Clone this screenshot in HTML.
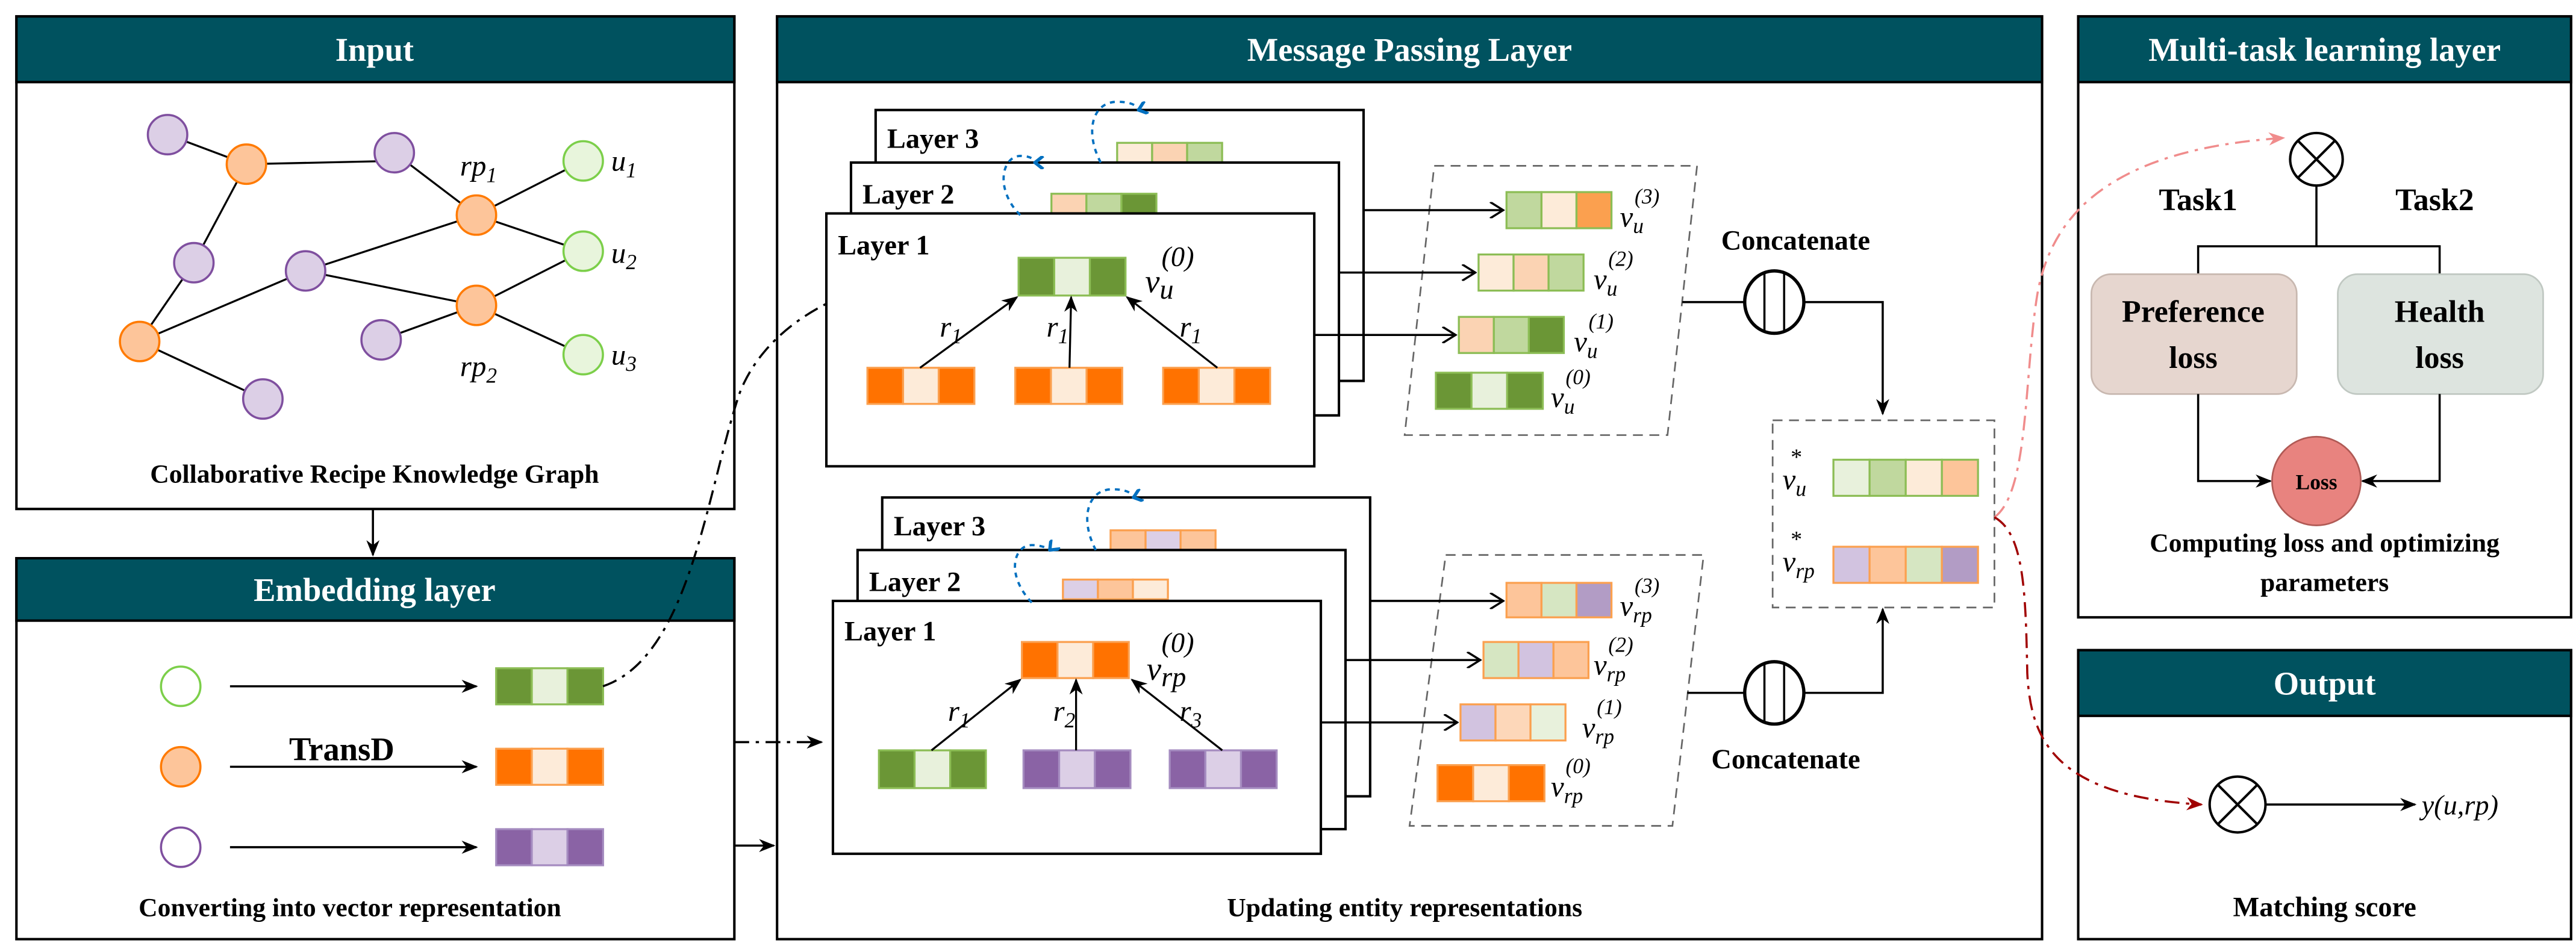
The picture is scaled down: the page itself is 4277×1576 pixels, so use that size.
<!DOCTYPE html>
<html><head><meta charset="utf-8"><style>
html,body{margin:0;padding:0;background:#fff;font-family:"Liberation Serif",serif;}
svg{display:block;font-family:"Liberation Serif",serif;}
svg text{font-family:"Liberation Serif",serif;}
.h{fill:#fff;font-weight:bold;font-size:20px;text-anchor:middle}
.c{fill:#000;font-weight:bold;font-size:16px;text-anchor:middle}
.m{font-style:italic;font-size:18px}
.s{font-style:italic;font-size:13px}
</style></head><body>
<svg width="4277" height="1576" viewBox="0 0 1568 578" preserveAspectRatio="none" xmlns="http://www.w3.org/2000/svg" font-family="Liberation Serif, serif">
<defs>
<marker id="a" markerWidth="10" markerHeight="8" refX="9" refY="4" orient="auto" markerUnits="userSpaceOnUse"><path d="M0,0 L10,4 L0,8 L3,4 Z" fill="#000"/></marker>
<marker id="o" markerWidth="10" markerHeight="10" refX="9" refY="5" orient="auto" markerUnits="userSpaceOnUse"><path d="M1,0 L9,5 L1,10" fill="none" stroke="#000" stroke-width="1.3"/></marker>
<marker id="b" markerWidth="8" markerHeight="8" refX="4" refY="7" orient="auto" markerUnits="userSpaceOnUse"><path d="M0,2 L4,7 L8,2" fill="none" stroke="#0070c0" stroke-width="2"/></marker>
<marker id="p" markerWidth="10" markerHeight="8" refX="9" refY="4" orient="auto" markerUnits="userSpaceOnUse"><path d="M0,0 L10,4 L0,8 L3,4 Z" fill="#f08c8c"/></marker>
<marker id="r" markerWidth="10" markerHeight="8" refX="9" refY="4" orient="auto" markerUnits="userSpaceOnUse"><path d="M0,0 L10,4 L0,8 L3,4 Z" fill="#a00000"/></marker>
</defs>
<rect width="1568" height="578" fill="#fff"/>

<g stroke="#000" stroke-width="1.5" fill="none">
<rect x="10" y="10" width="437" height="300"/>
<rect x="10" y="340" width="437" height="232"/>
<rect x="473" y="10" width="770" height="562"/>
<rect x="1265" y="10" width="300" height="366"/>
<rect x="1265" y="396" width="300" height="176"/>
</g>
<g fill="#00525f" stroke="#000" stroke-width="1.5">
<rect x="10" y="10" width="437" height="40"/>
<rect x="10" y="340" width="437" height="38"/>
<rect x="473" y="10" width="770" height="40"/>
<rect x="1265" y="10" width="300" height="40"/>
<rect x="1265" y="396" width="300" height="40"/>
</g>
<text class="h" x="228" y="37">Input</text>
<text class="h" x="228" y="366">Embedding layer</text>
<text class="h" x="858" y="37">Message Passing Layer</text>
<text class="h" x="1415" y="37">Multi-task learning layer</text>
<text class="h" x="1415" y="423">Output</text>

<g stroke="#000" stroke-width="1.2">
<line x1="102" y1="82" x2="150" y2="100"/><line x1="150" y1="100" x2="240" y2="98"/>
<line x1="150" y1="100" x2="118" y2="160"/><line x1="118" y1="160" x2="85" y2="208"/>
<line x1="85" y1="208" x2="186" y2="165"/><line x1="186" y1="165" x2="290" y2="131"/>
<line x1="240" y1="93" x2="290" y2="131"/><line x1="290" y1="131" x2="355" y2="98"/>
<line x1="290" y1="131" x2="355" y2="153"/><line x1="290" y1="186" x2="355" y2="153"/>
<line x1="290" y1="186" x2="355" y2="216"/><line x1="232" y1="207" x2="290" y2="186"/>
<line x1="186" y1="165" x2="290" y2="186"/><line x1="85" y1="208" x2="160" y2="243"/>
</g>
<g stroke-width="1.3">
<g fill="#dccfe6" stroke="#7f4f9f">
<circle cx="102" cy="82" r="12"/><circle cx="240" cy="93" r="12"/><circle cx="118" cy="160" r="12"/>
<circle cx="186" cy="165" r="12"/><circle cx="232" cy="207" r="12"/><circle cx="160" cy="243" r="12"/>
</g>
<g fill="#fdc59a" stroke="#ff7a00">
<circle cx="150" cy="100" r="12"/><circle cx="290" cy="131" r="12"/><circle cx="85" cy="208" r="12"/><circle cx="290" cy="186" r="12"/>
</g>
<g fill="#e8f5dc" stroke="#7ccf4a">
<circle cx="355" cy="98" r="12"/><circle cx="355" cy="153" r="12"/><circle cx="355" cy="216" r="12"/>
</g>
</g>
<text class="m" x="280" y="107">rp<tspan class="s" dy="4">1</tspan></text>
<text class="m" x="280" y="229">rp<tspan class="s" dy="4">2</tspan></text>
<text class="m" x="372" y="104">u<tspan class="s" dy="4">1</tspan></text>
<text class="m" x="372" y="160">u<tspan class="s" dy="4">2</tspan></text>
<text class="m" x="372" y="222">u<tspan class="s" dy="4">3</tspan></text>
<text class="c" x="228" y="294">Collaborative Recipe Knowledge Graph</text>
<line x1="227" y1="310" x2="227" y2="338" stroke="#000" stroke-width="1.3" marker-end="url(#a)"/>

<g stroke-width="1.3">
<circle cx="110" cy="418" r="12" fill="#fff" stroke="#7ccf4a"/>
<circle cx="110" cy="467" r="12" fill="#fdc59a" stroke="#ff7a00"/>
<circle cx="110" cy="516" r="12" fill="#fff" stroke="#7f4f9f"/>
</g>
<g stroke="#000" stroke-width="1.3">
<line x1="140" y1="418" x2="290" y2="418" marker-end="url(#a)"/>
<line x1="140" y1="467" x2="290" y2="467" marker-end="url(#a)"/>
<line x1="140" y1="516" x2="290" y2="516" marker-end="url(#a)"/>
</g>
<text x="208" y="463" style="font-weight:bold;font-size:20px;text-anchor:middle">TransD</text>
<g stroke-width="1.2">
<g transform="translate(302,407)" stroke="#8cbd55"><rect width="21.7" height="22" fill="#6b9636"/><rect x="21.7" width="21.7" height="22" fill="#e8f1dc"/><rect x="43.4" width="21.7" height="22" fill="#6b9636"/></g>
<g transform="translate(302,456)" stroke="#fba04f"><rect width="21.7" height="22" fill="#ff7200"/><rect x="21.7" width="21.7" height="22" fill="#fdebd9"/><rect x="43.4" width="21.7" height="22" fill="#ff7200"/></g>
<g transform="translate(302,505)" stroke="#a58cc0"><rect width="21.7" height="22" fill="#8a63a5"/><rect x="21.7" width="21.7" height="22" fill="#dccfe6"/><rect x="43.4" width="21.7" height="22" fill="#8a63a5"/></g>
</g>
<text class="c" x="213" y="558">Converting into vector representation</text>

<path d="M367,418 C420,400 430,300 450,240 C465,200 510,175 553,170" fill="none" stroke="#000" stroke-width="1.3" stroke-dasharray="9,4,2,4" marker-end="url(#a)"/>
<line x1="447" y1="452" x2="500" y2="452" stroke="#000" stroke-width="1.3" stroke-dasharray="9,4,2,4" marker-end="url(#a)"/>
<line x1="447" y1="515" x2="471" y2="515" stroke="#000" stroke-width="1.3" marker-end="url(#a)"/>

<!-- TOP GROUP -->
<rect x="533" y="67" width="297" height="165" fill="#fff" stroke="#000" stroke-width="1.5"/>
<g transform="translate(680,87)" stroke="#8cbd55" stroke-width="1.2"><rect width="21.3" height="12" fill="#fdebd9"/><rect x="21.3" width="21.3" height="12" fill="#fbd3b3"/><rect x="42.6" width="21.3" height="12" fill="#c0d89e"/></g>
<rect x="518" y="99" width="297" height="154" fill="#fff" stroke="#000" stroke-width="1.5"/>
<g transform="translate(640,118)" stroke="#8cbd55" stroke-width="1.2"><rect width="21.3" height="12" fill="#fbd3b3"/><rect x="21.3" width="21.3" height="12" fill="#c0d89e"/><rect x="42.6" width="21.3" height="12" fill="#6b9636"/></g>
<rect x="503" y="130" width="297" height="154" fill="#fff" stroke="#000" stroke-width="1.5"/>
<text x="540" y="90" style="font-weight:bold;font-size:17px">Layer 3</text>
<text x="525" y="124" style="font-weight:bold;font-size:17px">Layer 2</text>
<text x="510" y="155" style="font-weight:bold;font-size:17px">Layer 1</text>
<path d="M621,131 C605,115 610,94 622,95 C628,95 630,98 630,99" fill="none" stroke="#0070c0" stroke-width="1.4" stroke-dasharray="3,3" marker-end="url(#b)"/>
<path d="M670,99 C660,80 665,62 680,62 C688,62 692,64 693,67" fill="none" stroke="#0070c0" stroke-width="1.4" stroke-dasharray="3,3" marker-end="url(#b)"/>
<g stroke-width="1.2">
<g transform="translate(620,157)" stroke="#8cbd55"><rect width="21.7" height="23" fill="#6b9636"/><rect x="21.7" width="21.7" height="23" fill="#e8f1dc"/><rect x="43.4" width="21.7" height="23" fill="#6b9636"/></g>
<g transform="translate(528,224)" stroke="#fba04f"><rect width="21.7" height="22" fill="#ff7200"/><rect x="21.7" width="21.7" height="22" fill="#fdebd9"/><rect x="43.4" width="21.7" height="22" fill="#ff7200"/></g>
<g transform="translate(618,224)" stroke="#fba04f"><rect width="21.7" height="22" fill="#ff7200"/><rect x="21.7" width="21.7" height="22" fill="#fdebd9"/><rect x="43.4" width="21.7" height="22" fill="#ff7200"/></g>
<g transform="translate(708,224)" stroke="#fba04f"><rect width="21.7" height="22" fill="#ff7200"/><rect x="21.7" width="21.7" height="22" fill="#fdebd9"/><rect x="43.4" width="21.7" height="22" fill="#ff7200"/></g>
</g>
<g stroke="#000" stroke-width="1.2">
<line x1="560" y1="224" x2="619" y2="181" marker-end="url(#a)"/>
<line x1="651" y1="224" x2="652" y2="181" marker-end="url(#a)"/>
<line x1="741" y1="224" x2="686" y2="181" marker-end="url(#a)"/>
</g>
<text class="m" x="572" y="205">r<tspan class="s" dy="4">1</tspan></text>
<text class="m" x="637" y="205">r<tspan class="s" dy="4">1</tspan></text>
<text class="m" x="718" y="205">r<tspan class="s" dy="4">1</tspan></text>
<text class="m" x="697" y="178" style="font-size:20px">v<tspan dy="4" style="font-size:17px">u</tspan></text>
<text class="m" x="707" y="162" style="font-size:17px">(0)</text>

<path d="M873,101 L1033,101 L1015,265 L855,265 Z" fill="none" stroke="#666" stroke-width="1" stroke-dasharray="6,4"/>
<g stroke="#000" stroke-width="1.3">
<line x1="830" y1="128" x2="915" y2="128" marker-end="url(#o)"/>
<line x1="815" y1="166" x2="898" y2="166" marker-end="url(#o)"/>
<line x1="800" y1="204" x2="886" y2="204" marker-end="url(#o)"/>
</g>
<g stroke-width="1.2">
<g transform="translate(917,117)" stroke="#8cbd55"><rect width="21.3" height="22" fill="#c0d89e"/><rect x="21.3" width="21.3" height="22" fill="#fdebd9"/><rect x="42.6" width="21.3" height="22" fill="#fba04f"/></g>
<g transform="translate(900,155)" stroke="#8cbd55"><rect width="21.3" height="22" fill="#fdebd9"/><rect x="21.3" width="21.3" height="22" fill="#fbd3b3"/><rect x="42.6" width="21.3" height="22" fill="#c0d89e"/></g>
<g transform="translate(888,193)" stroke="#8cbd55"><rect width="21.3" height="22" fill="#fbd3b3"/><rect x="21.3" width="21.3" height="22" fill="#c0d89e"/><rect x="42.6" width="21.3" height="22" fill="#6b9636"/></g>
<g transform="translate(874,227)" stroke="#8cbd55"><rect width="21.7" height="22" fill="#6b9636"/><rect x="21.7" width="21.7" height="22" fill="#e8f1dc"/><rect x="43.4" width="21.7" height="22" fill="#6b9636"/></g>
</g>
<text class="m" x="986" y="138">v<tspan class="s" dy="4">u</tspan></text><text class="s" x="995" y="124">(3)</text>
<text class="m" x="970" y="176">v<tspan class="s" dy="4">u</tspan></text><text class="s" x="979" y="162">(2)</text>
<text class="m" x="958" y="214">v<tspan class="s" dy="4">u</tspan></text><text class="s" x="967" y="200">(1)</text>
<text class="m" x="944" y="248">v<tspan class="s" dy="4">u</tspan></text><text class="s" x="953" y="234">(0)</text>
<text class="c" x="1093" y="152" style="font-size:17px">Concatenate</text>
<line x1="1024" y1="184" x2="1062" y2="184" stroke="#000" stroke-width="1.3"/>
<ellipse cx="1080" cy="184" rx="18" ry="19" fill="#fff" stroke="#000" stroke-width="2"/>
<line x1="1074" y1="166" x2="1074" y2="202" stroke="#000" stroke-width="1.3"/>
<line x1="1086" y1="166" x2="1086" y2="202" stroke="#000" stroke-width="1.3"/>
<polyline points="1098,184 1146,184 1146,252" fill="none" stroke="#000" stroke-width="1.3" marker-end="url(#a)"/>

<!-- BOTTOM GROUP -->
<rect x="537" y="303" width="297" height="182" fill="#fff" stroke="#000" stroke-width="1.5"/>
<g transform="translate(676,323)" stroke="#fba04f" stroke-width="1.2"><rect width="21.3" height="12" fill="#fdc59a"/><rect x="21.3" width="21.3" height="12" fill="#dccfe6"/><rect x="42.6" width="21.3" height="12" fill="#fdc59a"/></g>
<rect x="522" y="335" width="297" height="170" fill="#fff" stroke="#000" stroke-width="1.5"/>
<g transform="translate(647,353)" stroke="#fba04f" stroke-width="1.2"><rect width="21.3" height="12" fill="#dccfe6"/><rect x="21.3" width="21.3" height="12" fill="#fdc59a"/><rect x="42.6" width="21.3" height="12" fill="#fdebd9"/></g>
<rect x="507" y="366" width="297" height="154" fill="#fff" stroke="#000" stroke-width="1.5"/>
<text x="544" y="326" style="font-weight:bold;font-size:17px">Layer 3</text>
<text x="529" y="360" style="font-weight:bold;font-size:17px">Layer 2</text>
<text x="514" y="390" style="font-weight:bold;font-size:17px">Layer 1</text>
<path d="M628,367 C612,350 617,332 628,332 C634,332 638,334 639,335" fill="none" stroke="#0070c0" stroke-width="1.4" stroke-dasharray="3,3" marker-end="url(#b)"/>
<path d="M667,335 C657,316 662,298 677,298 C685,298 689,300 690,303" fill="none" stroke="#0070c0" stroke-width="1.4" stroke-dasharray="3,3" marker-end="url(#b)"/>
<g stroke-width="1.2">
<g transform="translate(622,391)" stroke="#fba04f"><rect width="21.7" height="22" fill="#ff7200"/><rect x="21.7" width="21.7" height="22" fill="#fdebd9"/><rect x="43.4" width="21.7" height="22" fill="#ff7200"/></g>
<g transform="translate(535,457)" stroke="#8cbd55"><rect width="21.7" height="23" fill="#6b9636"/><rect x="21.7" width="21.7" height="23" fill="#e8f1dc"/><rect x="43.4" width="21.7" height="23" fill="#6b9636"/></g>
<g transform="translate(623,457)" stroke="#a58cc0"><rect width="21.7" height="23" fill="#8a63a5"/><rect x="21.7" width="21.7" height="23" fill="#dccfe6"/><rect x="43.4" width="21.7" height="23" fill="#8a63a5"/></g>
<g transform="translate(712,457)" stroke="#a58cc0"><rect width="21.7" height="23" fill="#8a63a5"/><rect x="21.7" width="21.7" height="23" fill="#dccfe6"/><rect x="43.4" width="21.7" height="23" fill="#8a63a5"/></g>
</g>
<g stroke="#000" stroke-width="1.2">
<line x1="567" y1="457" x2="621" y2="414" marker-end="url(#a)"/>
<line x1="655" y1="457" x2="655" y2="414" marker-end="url(#a)"/>
<line x1="744" y1="457" x2="689" y2="414" marker-end="url(#a)"/>
</g>
<text class="m" x="577" y="439">r<tspan class="s" dy="4">1</tspan></text>
<text class="m" x="641" y="439">r<tspan class="s" dy="4">2</tspan></text>
<text class="m" x="718" y="439">r<tspan class="s" dy="4">3</tspan></text>
<text class="m" x="698" y="414" style="font-size:20px">v<tspan dy="4" style="font-size:17px">rp</tspan></text>
<text class="m" x="707" y="397" style="font-size:17px">(0)</text>

<path d="M880,338 L1037,338 L1018,503 L858,503 Z" fill="none" stroke="#666" stroke-width="1" stroke-dasharray="6,4"/>
<g stroke="#000" stroke-width="1.3">
<line x1="834" y1="366" x2="915" y2="366" marker-end="url(#o)"/>
<line x1="819" y1="402" x2="901" y2="402" marker-end="url(#o)"/>
<line x1="804" y1="440" x2="887" y2="440" marker-end="url(#o)"/>
</g>
<g stroke-width="1.2">
<g transform="translate(917,355)" stroke="#fba04f"><rect width="21.3" height="21" fill="#fdc59a"/><rect x="21.3" width="21.3" height="21" fill="#d6e6c2"/><rect x="42.6" width="21.3" height="21" fill="#b29cc5"/></g>
<g transform="translate(903,391)" stroke="#fba04f"><rect width="21.3" height="22" fill="#d6e6c2"/><rect x="21.3" width="21.3" height="22" fill="#d2c3e0"/><rect x="42.6" width="21.3" height="22" fill="#fdc59a"/></g>
<g transform="translate(889,429)" stroke="#fba04f"><rect width="21.3" height="22" fill="#d2c3e0"/><rect x="21.3" width="21.3" height="22" fill="#fdd7b9"/><rect x="42.6" width="21.3" height="22" fill="#e8f1dc"/></g>
<g transform="translate(875,466)" stroke="#fba04f"><rect width="21.7" height="22" fill="#ff7200"/><rect x="21.7" width="21.7" height="22" fill="#fdebd9"/><rect x="43.4" width="21.7" height="22" fill="#ff7200"/></g>
</g>
<text class="m" x="986" y="375">v<tspan class="s" dy="4">rp</tspan></text><text class="s" x="995" y="361">(3)</text>
<text class="m" x="970" y="411">v<tspan class="s" dy="4">rp</tspan></text><text class="s" x="979" y="397">(2)</text>
<text class="m" x="963" y="449">v<tspan class="s" dy="4">rp</tspan></text><text class="s" x="972" y="435">(1)</text>
<text class="m" x="944" y="485">v<tspan class="s" dy="4">rp</tspan></text><text class="s" x="953" y="471">(0)</text>
<line x1="1027" y1="422" x2="1062" y2="422" stroke="#000" stroke-width="1.3"/>
<ellipse cx="1080" cy="422" rx="18" ry="19" fill="#fff" stroke="#000" stroke-width="2"/>
<line x1="1074" y1="404" x2="1074" y2="440" stroke="#000" stroke-width="1.3"/>
<line x1="1086" y1="404" x2="1086" y2="440" stroke="#000" stroke-width="1.3"/>
<polyline points="1098,422 1146,422 1146,371" fill="none" stroke="#000" stroke-width="1.3" marker-end="url(#a)"/>
<text class="c" x="1087" y="468" style="font-size:17px">Concatenate</text>

<rect x="1079" y="256" width="135" height="114" fill="none" stroke="#666" stroke-width="1" stroke-dasharray="6,4"/>
<g stroke-width="1.2">
<g transform="translate(1116,280)" stroke="#8cbd55"><rect width="22" height="22" fill="#e8f1dc"/><rect x="22" width="22" height="22" fill="#c0d89e"/><rect x="44" width="22" height="22" fill="#fdebd9"/><rect x="66" width="22" height="22" fill="#fdc59a"/></g>
<g transform="translate(1116,333)" stroke="#fba04f"><rect width="22" height="22" fill="#d2c3e0"/><rect x="22" width="22" height="22" fill="#fdc59a"/><rect x="44" width="22" height="22" fill="#d6e6c2"/><rect x="66" width="22" height="22" fill="#b29cc5"/></g>
</g>
<text class="m" x="1085" y="298">v<tspan class="s" dy="4">u</tspan></text><text x="1090" y="283" style="font-size:14px">*</text>
<text class="m" x="1085" y="348">v<tspan class="s" dy="4">rp</tspan></text><text x="1090" y="333" style="font-size:14px">*</text>

<path d="M1214,315 C1235,300 1232,230 1240,180 C1250,120 1300,90 1390,84" fill="none" stroke="#f08c8c" stroke-width="1.3" stroke-dasharray="9,4,2,4" marker-end="url(#p)"/>
<path d="M1214,315 C1232,325 1233,360 1234,410 C1236,450 1250,485 1340,490" fill="none" stroke="#a00000" stroke-width="1.3" stroke-dasharray="9,4,2,4" marker-end="url(#r)"/>

<circle cx="1410" cy="97" r="16" fill="#fff" stroke="#000" stroke-width="1.5"/>
<line x1="1399" y1="86" x2="1421" y2="108" stroke="#000" stroke-width="1.5"/>
<line x1="1421" y1="86" x2="1399" y2="108" stroke="#000" stroke-width="1.5"/>
<g stroke="#000" stroke-width="1.3" fill="none">
<line x1="1410" y1="113" x2="1410" y2="150"/>
<polyline points="1338,167 1338,150 1485,150 1485,167"/>
</g>
<text class="c" x="1338" y="128" style="font-size:19px">Task1</text>
<text class="c" x="1482" y="128" style="font-size:19px">Task2</text>
<rect x="1273" y="167" width="125" height="73" rx="12" fill="#e6d6cf" stroke="#c8b8b0" stroke-width="1"/>
<rect x="1423" y="167" width="125" height="73" rx="12" fill="#dde4df" stroke="#c0c8c2" stroke-width="1"/>
<text class="c" x="1335" y="196" style="font-size:19px">Preference</text>
<text class="c" x="1335" y="224" style="font-size:19px">loss</text>
<text class="c" x="1485" y="196" style="font-size:19px">Health</text>
<text class="c" x="1485" y="224" style="font-size:19px">loss</text>
<g stroke="#000" stroke-width="1.3" fill="none">
<polyline points="1338,240 1338,293 1382,293" marker-end="url(#a)"/>
<polyline points="1485,240 1485,293 1438,293" marker-end="url(#a)"/>
</g>
<circle cx="1410" cy="293" r="27" fill="#e8837f" stroke="#b05a55" stroke-width="1"/>
<text class="c" x="1410" y="298" style="font-size:13px">Loss</text>
<text class="c" x="1415" y="336">Computing loss and optimizing</text>
<text class="c" x="1415" y="360">parameters</text>

<circle cx="1362" cy="490" r="17" fill="#fff" stroke="#000" stroke-width="1.5"/>
<line x1="1350" y1="478" x2="1374" y2="502" stroke="#000" stroke-width="1.5"/>
<line x1="1374" y1="478" x2="1350" y2="502" stroke="#000" stroke-width="1.5"/>
<line x1="1379" y1="490" x2="1470" y2="490" stroke="#000" stroke-width="1.3" marker-end="url(#a)"/>
<text x="1474" y="496" style="font-style:italic;font-size:17px">y(u,rp)</text>
<text class="c" x="1415" y="558" style="font-size:17px">Matching score</text>

<text class="c" x="855" y="558">Updating entity representations</text>
</svg>
</body></html>
